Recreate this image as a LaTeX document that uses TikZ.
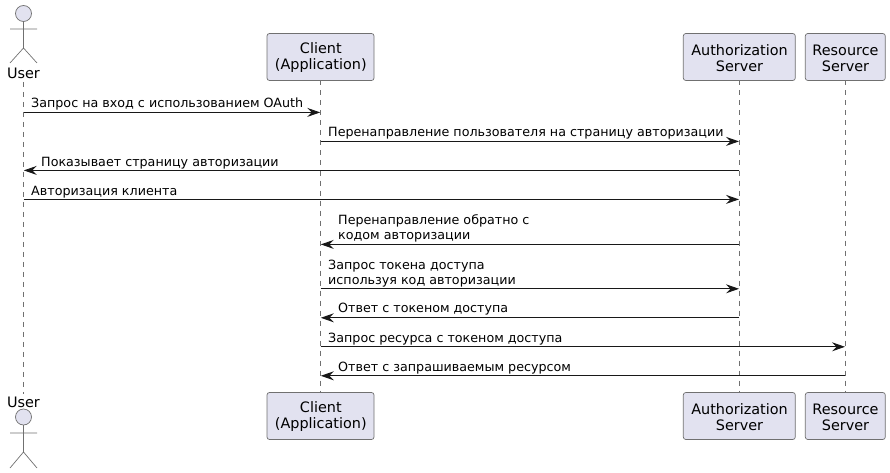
\documentclass[tikz,border=0pt]{standalone}
\usepackage{fontspec}
\setmainfont{DejaVu Sans}
\usetikzlibrary{arrows.meta,calc}
\definecolor{ink}{HTML}{181818}
\definecolor{soft}{HTML}{707070}
\definecolor{boxfill}{HTML}{E2E2F0}
\tikzset{
  part/.style={draw=soft,line width=0.7pt,fill=boxfill,rounded corners=2.5pt,minimum height=47pt,inner sep=0pt,outer sep=0pt},
  partlabel/.style={inner sep=0pt,align=center,text=black,font=\fontsize{14.4}{16}\selectfont},
  actorname/.style={inner sep=0pt,text=black,font=\fontsize{14.4}{16}\selectfont},
  actorshape/.style={draw=soft,line width=0.7pt,fill=boxfill},
  actorline/.style={draw=soft,line width=0.7pt},
  life/.style={draw=soft,line width=0.6pt,dash pattern=on 5pt off 5pt},
  msg/.style={draw=ink,line width=1pt,-{Stealth[length=13pt,width=9pt,inset=4.5pt,fill=ink]},shorten >=0.3pt},
  msgtext/.style={anchor=base west,inner sep=0pt,align=left,text=black,font=\fontsize{12.7}{14.6}\selectfont}
}
\begin{document}
\begin{tikzpicture}[x=1pt,y=-1pt]
\useasboundingbox (0,0) rectangle (890,473);
\node[part,minimum width=107pt] (clientT) at (320.5,57) {};
\node[part,minimum width=112pt] (authT) at (739.3,57) {};
\node[part,minimum width=80pt] (resT) at (845.3,57) {};
\node[part,minimum width=107pt] (clientB) at (320.5,416) {};
\node[part,minimum width=112pt] (authB) at (739.3,416) {};
\node[part,minimum width=80pt] (resB) at (845.3,416) {};
\node[partlabel] (clientTl) at (320.8,58) {Client\\(Application)};
\node[partlabel] (authTl) at (739.5,58) {Authorization\\Server};
\node[partlabel] (resTl) at (845.5,58) {Resource\\Server};
\node[partlabel] (clientBl) at (320.8,417) {Client\\(Application)};
\node[partlabel] (authBl) at (739.5,417) {Authorization\\Server};
\node[partlabel] (resBl) at (845.5,417) {Resource\\Server};
\node[actorname,anchor=base] (userT) at (23.5,78.5) {User};
\node[actorname,anchor=base] (userB) at (23.5,407.5) {User};
% actors
\draw[actorshape] (23.5,13.5) circle (8);
\draw[actorline] (23.5,21.5) -- (23.5,48) (10,29) -- (37,29) (10,63) -- (23.5,48) -- (37,63);
\draw[actorshape] (23.5,417) circle (8);
\draw[actorline] (23.5,425) -- (23.5,452) (10,433) -- (37,433) (10,468) -- (23.5,452) -- (37,468);
% lifelines
\draw[life] ($(userT.south)+(0,3)$) -- ($(userB.north)+(0,-3)$);
\draw[life] (clientT.south) -- (clientB.north);
\draw[life] (authT.south) -- (authB.north);
\draw[life] (resT.south) -- (resB.north);
% messages
\draw[msg] (userT |- 0,112.4) -- (clientT |- 0,112.4);
\node[msgtext] (m1) at (31,108) {Запрос на вход с использованием OAuth};
\draw[msg] (clientT |- 0,141.4) -- (authT |- 0,141.4);
\node[msgtext] (m2) at (328,137) {Перенаправление пользователя на страницу авторизации};
\draw[msg] (authT |- 0,170.4) -- (userT |- 0,170.4);
\node[msgtext] (m3) at (41,166) {Показывает страницу авторизации};
\draw[msg] (userT |- 0,199.4) -- (authT |- 0,199.4);
\node[msgtext] (m4) at (31,195) {Авторизация клиента};
\draw[msg] (authT |- 0,244.4) -- (clientT |- 0,244.4);
\node[msgtext] (m5) at (338,239.5) {Перенаправление обратно с\\кодом авторизации};
\draw[msg] (clientT |- 0,288.8) -- (authT |- 0,288.8);
\node[msgtext] (m6) at (328,284) {Запрос токена доступа\\используя код авторизации};
\draw[msg] (authT |- 0,317.8) -- (clientT |- 0,317.8);
\node[msgtext] (m7) at (338,312.5) {Ответ с токеном доступа};
\draw[msg] (clientT |- 0,346.8) -- (resT |- 0,346.8);
\node[msgtext] (m8) at (328,342) {Запрос ресурса с токеном доступа};
\draw[msg] (resT |- 0,375.8) -- (clientT |- 0,375.8);
\node[msgtext] (m9) at (338,371) {Ответ с запрашиваемым ресурсом};
\end{tikzpicture}
\end{document}
